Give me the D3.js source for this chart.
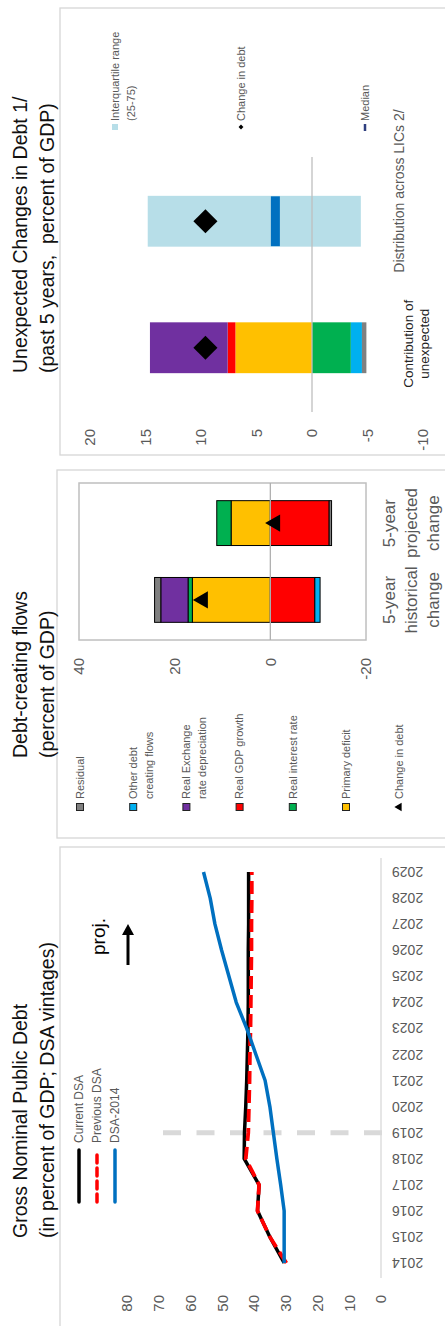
<!DOCTYPE html>
<html><head><meta charset="utf-8">
<script src="https://cdn.jsdelivr.net/npm/d3@7"></script>
<style>
body{margin:0;background:#fff}
svg{display:block;font-family:"Liberation Sans",Arial,Helvetica,sans-serif}
</style>
</head><body>
<svg id="c" width="445" height="1326"></svg>
<script>
// ---------- DATA ----------
// Panel 1: Gross nominal public debt (% of GDP)
const years = [2014,2015,2016,2017,2018,2019,2020,2021,2022,2023,2024,2025,2026,2027,2028,2029];
const currentDSA  = [30.5,35.0,38.9,38.4,43.1,43.0,42.6,42.3,42.1,41.9,41.8,41.8,41.8,41.7,41.7,41.7];
const previousDSA = [29.8,35.0,38.9,38.4,42.6,41.8,41.6,41.4,41.3,41.1,41.0,40.9,40.8,40.8,40.7,40.7];
const dsa2014     = [30.5,30.5,30.5,31.6,32.8,33.9,35.0,36.5,39.4,42.3,45.6,47.9,50.2,52.3,53.8,55.9];
const debtTicks = [0,10,20,30,40,50,60,70,80];
const projYear = 2019;

// Panel 2: Debt-creating flows (% of GDP)
const flowCategories = ["5-year historical change","5-year projected change"];
const flowCategoryLines = [["5-year","historical","change"],["5-year","projected","change"]];
const flowKeys = ["Primary deficit","Real interest rate","Real GDP growth","Real Exchange rate depreciation","Other debt creating flows","Residual"];
const primaryDeficit   = [16.3, 8.2];
const realInterestRate = [0.9, 3.0];
const realGDPGrowth    = [-9.3, -12.3];
const realExchangeRate = [5.7, 0];
const otherDebtFlows   = [-1.1, 0];
const residualFlows    = [1.3, -0.5];
const changeInDebtFlows = [14.1, -1.0];
const flowTicks = [-20,0,20,40];
const flowLegendOrder = ["Residual","Other debt creating flows","Real Exchange rate depreciation","Real GDP growth","Real interest rate","Primary deficit","Change in debt"];
const flowLegendLabels = {"Residual":["Residual"],"Other debt creating flows":["Other debt","creating flows"],"Real Exchange rate depreciation":["Real Exchange","rate depreciation"],"Real GDP growth":["Real GDP growth"],"Real interest rate":["Real interest rate"],"Primary deficit":["Primary deficit"],"Change in debt":["Change in debt"]};

// Panel 3: Unexpected changes in debt (% of GDP)
const unexpCategories = ["Contribution of unexpected","Distribution across LICs 2/"];
const unexpContribution = {"Primary deficit":6.9,"Real interest rate":-3.5,"Real GDP growth":0.7,"Real Exchange rate depreciation":7.0,"Other debt creating flows":-1.0,"Residual":-0.4};
const licIQR = [-4.4, 14.8];
const licMedian = 3.3;
const unexpChangeInDebt = [9.6, 9.6];
const unexpTicks = [-10,-5,0,5,10,15,20];

const colors = {"Primary deficit":"#FFC000","Real interest rate":"#00B050","Real GDP growth":"#FF0000","Real Exchange rate depreciation":"#7030A0","Other debt creating flows":"#00B0F0","Residual":"#808080"};
const gray = "#595959";
const fmt = d => String(d);

// ---------- DRAW (landscape 1326x445, rotated into portrait) ----------
const svg = d3.select("#c");
const root = svg.append("g").attr("transform","translate(0,1326) rotate(-90)");

// panel borders
const borderColor = "#D6D6D6";
[[-5,60,484,400],[488,57,368,400],[871,60,447,400]].forEach(b=>{
  root.append("rect").attr("x",b[0]).attr("y",b[1]).attr("width",b[2]).attr("height",b[3])
    .attr("fill","none").attr("stroke",borderColor).attr("stroke-width",1.3);
});

function title(g, x, lines){
  lines.forEach((t,i)=>{
    g.append("text").attr("x",x).attr("y",27+i*27).attr("font-size",19.5).attr("fill","#111")
      .style("white-space","pre").text(t);
  });
}

// ===== Panel 1 =====
const p1 = root.append("g");
title(p1, 88, ["Gross Nominal Public Debt","(in percent of GDP; DSA vintages)"]);
const x1 = d3.scalePoint().domain(years).range([63,454]);
const y1 = d3.scaleLinear().domain([0,80]).range([381,127]);

p1.append("line").attr("x1",48).attr("x2",468).attr("y1",y1(0)).attr("y2",y1(0))
  .attr("stroke","#D9D9D9").attr("stroke-width",1.3);

const ax1 = p1.append("g").attr("transform","translate(34,0)")
  .call(d3.axisLeft(y1).tickValues(debtTicks).tickFormat(fmt).tickSize(0).tickPadding(3));
ax1.select(".domain").remove();
ax1.selectAll("text").attr("font-size",15).attr("fill",gray).attr("font-family","Liberation Sans, Arial, sans-serif");

p1.selectAll("text.year").data(years).join("text").attr("class","year")
  .attr("transform",d=>`translate(${x1(d)},392) rotate(-90)`)
  .attr("text-anchor","end").attr("dy","0.35em").attr("font-size",14).attr("fill",gray).text(d=>d);

// projection divider
p1.append("line").attr("x1",x1(projYear)).attr("x2",x1(projYear)).attr("y1",163).attr("y2",384)
  .attr("stroke","#D9D9D9").attr("stroke-width",5).attr("stroke-dasharray","18,15.5");

const line1 = d3.line().x((d,i)=>x1(years[i])).y(d=>y1(d));
p1.append("path").attr("d",line1(currentDSA)).attr("fill","none").attr("stroke","#000").attr("stroke-width",3.5).attr("stroke-linejoin","round");
p1.append("path").attr("d",line1(previousDSA)).attr("fill","none").attr("stroke","#FF0000").attr("stroke-width",3.8).attr("stroke-dasharray","13,6");
p1.append("path").attr("d",line1(dsa2014)).attr("fill","none").attr("stroke","#0070C0").attr("stroke-width",3.5).attr("stroke-linejoin","round");

// legend
const leg1 = [{t:"Current DSA",c:"#000",d:null},{t:"Previous DSA",c:"#FF0000",d:"8,5"},{t:"DSA-2014",c:"#0070C0",d:null}];
leg1.forEach((l,i)=>{
  const y = 79+i*18;
  p1.append("line").attr("x1",124).attr("x2",176).attr("y1",y).attr("y2",y).attr("stroke",l.c)
    .attr("stroke-width",3.5).attr("stroke-linecap","round").attr("stroke-dasharray",l.d);
  p1.append("text").attr("x",183).attr("y",y).attr("dy","0.35em").attr("font-size",12).attr("fill",gray).text(l.t);
});

// proj. arrow
p1.append("text").attr("x",371).attr("y",105).attr("font-size",19).attr("fill","#000").text("proj.");
p1.append("line").attr("x1",361).attr("x2",393).attr("y1",128).attr("y2",128).attr("stroke","#000").attr("stroke-width",3);
p1.append("path").attr("d","M391,122 L402,128 L391,134 Z").attr("fill","#000");

// ===== Panel 2 =====
const p2 = root.append("g");
title(p2, 568, ["Debt-creating flows","(percent of GDP)"]);
const x2 = d3.scaleBand().domain(flowCategories).range([686,843]).paddingInner(0.416).paddingOuter(0.23);
const y2 = d3.scaleLinear().domain([-20,40]).range([366,79]);

p2.append("rect").attr("x",686).attr("y",y2(40)).attr("width",157).attr("height",y2(-20)-y2(40))
  .attr("fill","none").attr("stroke","#BFBFBF").attr("stroke-width",1.5);

const flowRows = flowCategories.map((c,i)=>({cat:c,
  "Primary deficit":primaryDeficit[i],"Real interest rate":realInterestRate[i],"Real GDP growth":realGDPGrowth[i],
  "Real Exchange rate depreciation":realExchangeRate[i],"Other debt creating flows":otherDebtFlows[i],"Residual":residualFlows[i]}));
const stack = d3.stack().keys(flowKeys).offset(d3.stackOffsetDiverging);
const flowSeries = stack(flowRows);
p2.selectAll("g.s").data(flowSeries).join("g").attr("class","s").attr("fill",d=>colors[d.key])
  .selectAll("rect").data(d=>d.filter(v=>v[1]!==v[0])).join("rect")
  .attr("x",d=>x2(d.data.cat)).attr("width",x2.bandwidth())
  .attr("y",d=>y2(Math.max(d[0],d[1]))).attr("height",d=>Math.abs(y2(d[0])-y2(d[1])))
  .attr("stroke","#000").attr("stroke-width",1);

p2.append("line").attr("x1",686).attr("x2",843).attr("y1",y2(0)).attr("y2",y2(0)).attr("stroke","#B0B0B0").attr("stroke-width",1.3);

p2.selectAll("path.tri").data(changeInDebtFlows).join("path").attr("class","tri")
  .attr("transform",(d,i)=>`translate(${x2(flowCategories[i])+x2.bandwidth()/2},${y2(d)})`)
  .attr("d",d3.symbol(d3.symbolTriangle,130)).attr("fill","#000");

const ax2 = p2.append("g").attr("transform","translate(671,0)")
  .call(d3.axisLeft(y2).tickValues(flowTicks).tickFormat(fmt).tickSize(0).tickPadding(3));
ax2.select(".domain").remove();
ax2.selectAll("text").attr("font-size",15).attr("fill",gray).attr("font-family","Liberation Sans, Arial, sans-serif");

flowCategories.forEach((c,i)=>{
  flowCategoryLines[i].forEach((t,j)=>{
    p2.append("text").attr("x",x2(c)+x2.bandwidth()/2).attr("y",395+j*22).attr("text-anchor","middle")
      .attr("font-size",17).attr("fill",gray).text(t);
  });
});

flowLegendOrder.forEach((k,i)=>{
  const y = 80 + i*53.2;
  if(k==="Change in debt"){
    p2.append("path").attr("transform",`translate(519,${y})`).attr("d",d3.symbol(d3.symbolTriangle,30)).attr("fill","#000");
  } else {
    p2.append("rect").attr("x",515.5).attr("y",y-3.5).attr("width",7).attr("height",7)
      .attr("fill",colors[k]).attr("stroke","#222").attr("stroke-width",1);
  }
  flowLegendLabels[k].forEach((t,j)=>{
    p2.append("text").attr("x",527).attr("y",y+j*16).attr("dy","0.35em").attr("font-size",11).attr("fill",gray).text(t);
  });
});

// ===== Panel 3 =====
const p3 = root.append("g");
title(p3, 953, ["Unexpected Changes in Debt 1/","(past 5 years,  percent of GDP)"]);
const x3 = d3.scaleBand().domain(unexpCategories).range([914,1169]).paddingInner(0.598).paddingOuter(0.307);
const y3 = d3.scaleLinear().domain([-10,20]).range([423,90]);

const unexpRows = [Object.assign({cat:unexpCategories[0]}, unexpContribution)];
const unexpSeries = stack(unexpRows);
p3.selectAll("g.s").data(unexpSeries).join("g").attr("class","s").attr("fill",d=>colors[d.key])
  .selectAll("rect").data(d=>d.filter(v=>v[1]!==v[0])).join("rect")
  .attr("x",d=>x3(d.data.cat)).attr("width",x3.bandwidth())
  .attr("y",d=>y3(Math.max(d[0],d[1]))).attr("height",d=>Math.abs(y3(d[0])-y3(d[1])));

const c2 = unexpCategories[1];
p3.append("rect").attr("x",x3(c2)).attr("width",x3.bandwidth()).attr("y",y3(licIQR[1]))
  .attr("height",y3(licIQR[0])-y3(licIQR[1])).attr("fill","#B7DEE8");
p3.append("rect").attr("x",x3(c2)+0.5).attr("width",x3.bandwidth()-1).attr("y",y3(licMedian)-4.5)
  .attr("height",9).attr("fill","#0070C0");

p3.append("line").attr("x1",914).attr("x2",1169).attr("y1",y3(0)).attr("y2",y3(0)).attr("stroke","#BFBFBF").attr("stroke-width",1.3);

p3.selectAll("path.dia").data(unexpChangeInDebt).join("path").attr("class","dia")
  .attr("transform",(d,i)=>`translate(${x3(unexpCategories[i])+x3.bandwidth()/2},${y3(d)}) rotate(45)`)
  .attr("d",d3.symbol(d3.symbolSquare,290)).attr("fill","#000");

const ax3 = p3.append("g").attr("transform","translate(900,0)")
  .call(d3.axisLeft(y3).tickValues(unexpTicks).tickFormat(fmt).tickSize(0).tickPadding(3));
ax3.select(".domain").remove();
ax3.selectAll("text").attr("font-size",15).attr("fill",gray).attr("font-family","Liberation Sans, Arial, sans-serif");

const cc = x3(unexpCategories[0])+x3.bandwidth()/2;
p3.append("text").attr("x",cc+4).attr("y",413).attr("text-anchor","middle").attr("font-size",13.5).attr("fill","#222").text("Contribution of");
p3.append("text").attr("x",cc+4).attr("y",429).attr("text-anchor","middle").attr("font-size",13.5).attr("fill","#222").text("unexpected");
p3.append("text").attr("x",1135).attr("y",404).attr("text-anchor","middle").attr("font-size",14).attr("fill",gray).text("Distribution across LICs 2/");

// legend panel 3
p3.append("rect").attr("x",1196).attr("y",112).attr("width",6).attr("height",6).attr("fill","#B7DEE8");
p3.append("text").attr("x",1205).attr("y",115).attr("dy","0.35em").attr("font-size",11).attr("fill",gray).text("Interquartile range");
p3.append("text").attr("x",1205).attr("y",131).attr("dy","0.35em").attr("font-size",11).attr("fill",gray).text("(25-75)");
p3.append("path").attr("transform","translate(1199,241) rotate(45)").attr("d",d3.symbol(d3.symbolSquare,12)).attr("fill","#000");
p3.append("text").attr("x",1205).attr("y",241).attr("dy","0.35em").attr("font-size",11).attr("fill",gray).text("Change in debt");
p3.append("line").attr("x1",1195).attr("x2",1202).attr("y1",365).attr("y2",365).attr("stroke","#2F3F7F").attr("stroke-width",2.5);
p3.append("text").attr("x",1205).attr("y",365).attr("dy","0.35em").attr("font-size",11).attr("fill",gray).text("Median");
</script>
</body></html>
